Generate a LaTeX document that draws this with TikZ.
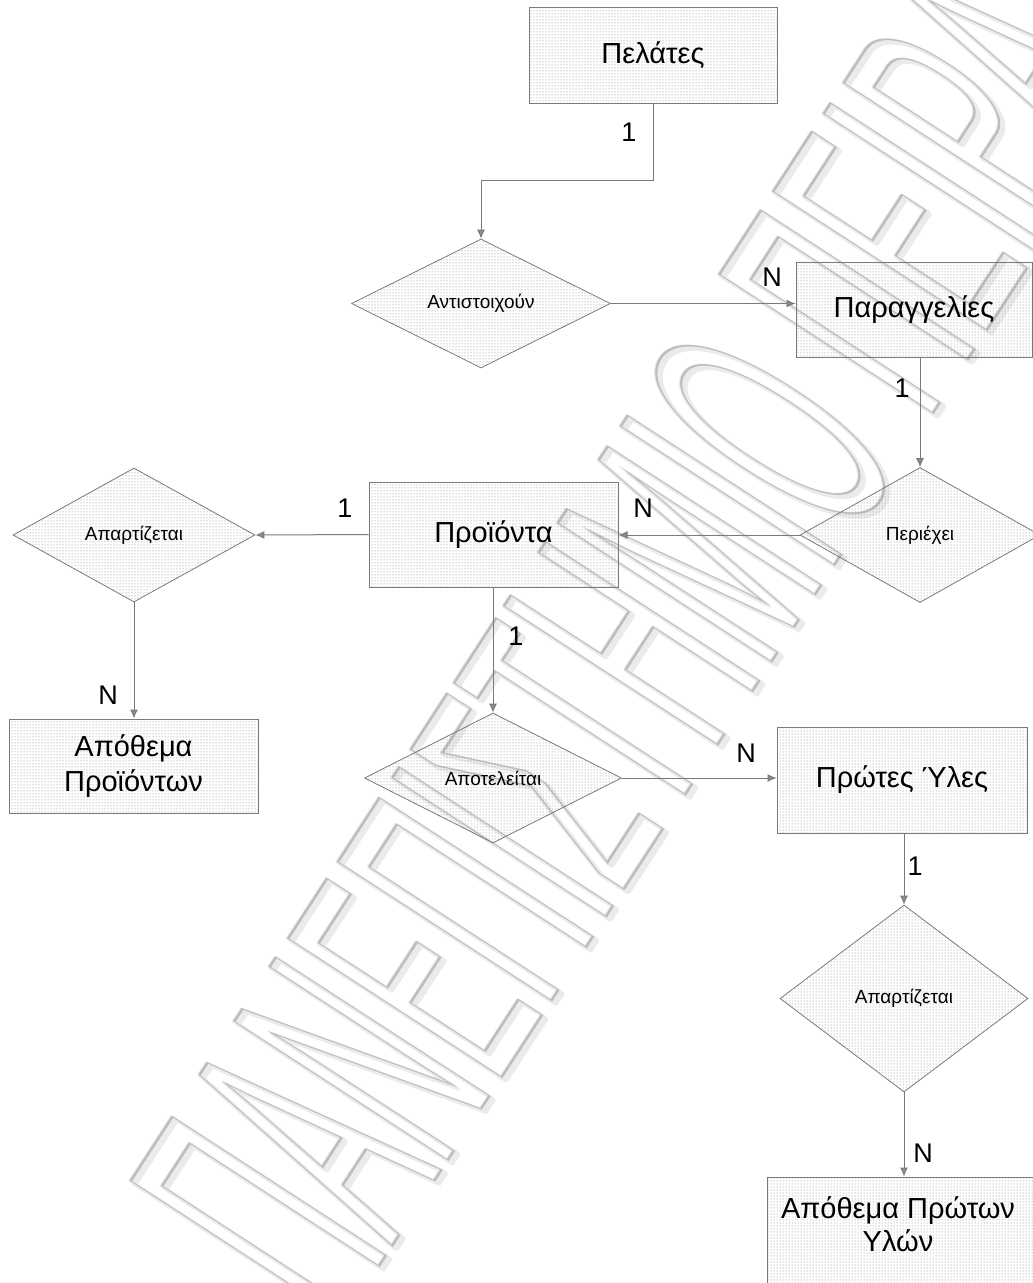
\documentclass[tikz,border=0pt]{standalone}
\usepackage{fontspec}
\usepackage{graphicx}
\setmainfont{Liberation Sans}
\usetikzlibrary{shapes.geometric,arrows.meta,patterns}
\definecolor{lc}{HTML}{7A7A7A}
\definecolor{ac}{HTML}{8C8C8C}
\newcommand{\wmtext}{\scalebox{0.37}[1]{\fontsize{370}{370}\selectfont ΠΑΝΕΠΙΣΤΗΜΙΟ ΠΕΙΡΑΙΑ}}
\tikzset{
  boxfill/.style={pattern=dots, pattern color=black!50},
  ent/.style={draw=lc, line width=1pt, boxfill, inner sep=0pt, align=center,
    font=\fontsize{29}{35}\selectfont},
  rel/.style={shape=diamond, draw=lc, line width=0.8pt, boxfill, inner sep=0pt,
    font=\fontsize{19}{22}\selectfont},
  conn/.style={draw=lc, line width=1pt, -{Latex[length=9pt,width=8pt,fill=ac]}},
  card/.style={inner sep=0pt, font=\fontsize{27}{30}\selectfont},
  wmark/.style={rotate=57, inner sep=0pt}
}
\begin{document}
\begin{tikzpicture}[x=1pt,y=-1pt]
\useasboundingbox (0,0) rectangle (1033,1283);
\fill[white] (0,0) rectangle (1033,1283);
\clip (0,0) rectangle (1033,1283);

% watermark (outlined letters with a soft shadow), behind the diagram
\node[wmark, text=black!8] (wmShadow) at (672,586) {\special{pdf:literal direct 10 w 1 j 1 Tr}\wmtext\special{pdf:literal direct 0 Tr}};
\node[wmark, text=black!26] (wm) at (670,584) {\special{pdf:literal direct 2.5 w 1 Tr}\wmtext\special{pdf:literal direct 0 Tr}};

% entities
\node[ent, minimum width=248pt, minimum height=96pt] (ePel) at (653,55) {Πελάτες};
\node[ent, minimum width=236pt, minimum height=95pt] (ePar) at (914,309.5) {Παραγγελίες};
\node[ent, minimum width=249pt, minimum height=105pt] (ePro) at (493.5,534.5) {Προϊόντα};
\node[ent, minimum width=249pt, minimum height=94pt] (eApo) at (133.5,766) {Απόθεμα\\Προϊόντων};
\node[ent, minimum width=250pt, minimum height=106pt] (eRaw) at (902,780) {Πρώτες Ύλες};
\node[ent, minimum width=278pt, minimum height=124pt, font=\fontsize{29}{33}\selectfont] (eStock) at (906,1239) {};
\node[inner sep=0pt, align=center, font=\fontsize{29}{33}\selectfont] (tStock) at (898,1224) {Απόθεμα Πρώτων\\Υλών};

% relationships
\node[rel, minimum width=259pt, minimum height=129pt] (dAnt) at (481,303.5) {Αντιστοιχούν};
\node[rel, minimum width=240pt, minimum height=135pt] (dPer) at (920,535) {Περιέχει};
\node[rel, minimum width=242pt, minimum height=134pt] (dApL) at (134,535) {Απαρτίζεται};
\node[rel, minimum width=257pt, minimum height=130pt] (dApo) at (493,778) {Αποτελείται};
\node[rel, minimum width=248pt, minimum height=187pt] (dApR) at (904,998.5) {Απαρτίζεται};

% connectors
\coordinate (bend1) at (653,180);
\draw[conn] (ePel.south) -- (bend1) -| (dAnt.north);
\draw[conn] (dAnt.east) -- (dAnt.east -| ePar.west);
\draw[conn] (dPer.north |- ePar.south) -- (dPer.north);
\draw[conn] (dPer.west) -- (dPer.west -| ePro.east);
\draw[conn] (ePro.west) -- (dApL.east);
\draw[conn] (dApL.south) -- (dApL.south |- eApo.north);
\draw[conn] (ePro.south -| dApo.north) -- (dApo.north);
\draw[conn] (dApo.east) -- (dApo.east -| eRaw.west);
\draw[conn] (dApR.north |- eRaw.south) -- (dApR.north);
\draw[conn] (dApR.south) -- (dApR.south |- eStock.north);

% cardinalities
\node[card] (c1) at (629,132) {1};
\node[card] (c2) at (772,277) {N};
\node[card] (c3) at (902,388) {1};
\node[card] (c4) at (643,508) {N};
\node[card] (c5) at (345,508) {1};
\node[card] (c6) at (516,636) {1};
\node[card] (c7) at (108,695) {N};
\node[card] (c8) at (746,753) {N};
\node[card] (c9) at (915,866) {1};
\node[card] (c10) at (923,1153) {N};
\end{tikzpicture}
\end{document}
